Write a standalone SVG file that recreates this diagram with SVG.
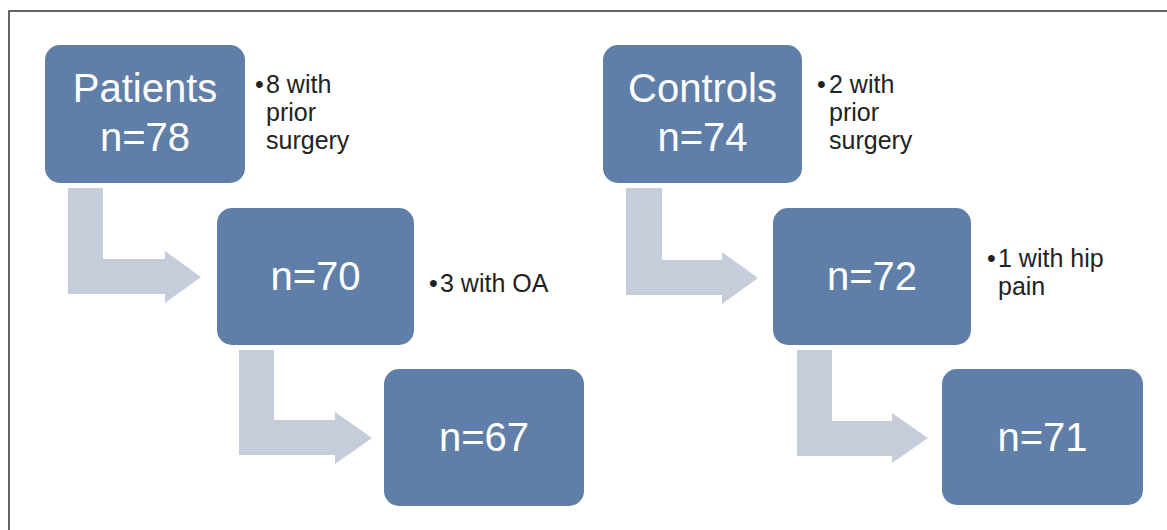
<svg xmlns="http://www.w3.org/2000/svg" width="1167" height="530" viewBox="0 0 1167 530">
<style>
.box{fill:#5f7fa8;}
.arr{fill:#c5cddb;}
.bt{font-family:"Liberation Sans",Arial,sans-serif;font-size:40px;fill:#ffffff;text-anchor:middle;}
.st{font-family:"Liberation Sans",Arial,sans-serif;font-size:25px;fill:#222222;}
.frame{stroke:#333333;stroke-width:1.5;fill:none;}
</style>
<rect width="1167" height="530" fill="#ffffff"/>
<path class="frame" d="M9,530 V11 H1167"/>
<g id="connectors">
<path class="arr" d="M68,188 H103 V259 H165 V251 L201,277 L165,303 V294 H68 Z"/>
<path class="arr" d="M239,350 H274 V420 H335 V412 L372,438 L335,464 V455 H239 Z"/>
<path class="arr" d="M626,188 H662 V260 H722 V252 L758,278 L722,304 V295 H626 Z"/>
<path class="arr" d="M797,350 H832 V421 H892 V413 L928,438 L892,463 V456 H797 Z"/>
</g>
<g id="patients">
<rect class="box" x="45" y="45" width="200" height="138" rx="15"/>
<text class="bt" x="145" y="102">Patients</text>
<text class="bt" x="145" y="151">n=78</text>
</g>
<g id="patients-note">
<text class="st" x="255" y="93">•</text>
<text class="st" x="266" y="93">8 with</text>
<text class="st" x="266" y="121">prior</text>
<text class="st" x="266" y="149">surgery</text>
</g>
<g id="p70">
<rect class="box" x="217" y="208" width="197" height="137" rx="15"/>
<text class="bt" x="315.5" y="290">n=70</text>
</g>
<g id="p70-note">
<text class="st" x="429" y="292">•</text>
<text class="st" x="440" y="292">3 with OA</text>
</g>
<g id="p67">
<rect class="box" x="384" y="369" width="200" height="137" rx="15"/>
<text class="bt" x="484" y="451">n=67</text>
</g>
<g id="controls">
<rect class="box" x="603" y="45" width="199" height="138" rx="15"/>
<text class="bt" x="702.5" y="102">Controls</text>
<text class="bt" x="702.5" y="151">n=74</text>
</g>
<g id="controls-note">
<text class="st" x="817" y="93">•</text>
<text class="st" x="829" y="93">2 with</text>
<text class="st" x="829" y="121">prior</text>
<text class="st" x="829" y="149">surgery</text>
</g>
<g id="c72">
<rect class="box" x="773" y="208" width="198" height="137" rx="15"/>
<text class="bt" x="872" y="290">n=72</text>
</g>
<g id="c72-note">
<text class="st" x="987" y="267">•</text>
<text class="st" x="998" y="267">1 with hip</text>
<text class="st" x="998" y="295">pain</text>
</g>
<g id="c71">
<rect class="box" x="942" y="369" width="201" height="136" rx="15"/>
<text class="bt" x="1042.5" y="451">n=71</text>
</g>
</svg>
